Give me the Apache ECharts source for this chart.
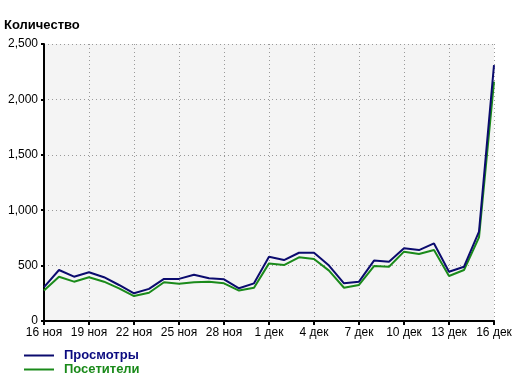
<!DOCTYPE html>
<html><head><meta charset="utf-8">
<script src="https://cdn.jsdelivr.net/npm/echarts@6/dist/echarts.min.js"></script>
<style>html,body{margin:0;padding:0;background:#fff}#c{width:517px;height:379px}</style>
</head><body><div id="c"></div>
<script>
const categories = ['16 ноя','17 ноя','18 ноя','19 ноя','20 ноя','21 ноя','22 ноя','23 ноя','24 ноя','25 ноя','26 ноя','27 ноя','28 ноя','29 ноя','30 ноя',
  '1 дек','2 дек','3 дек','4 дек','5 дек','6 дек','7 дек','8 дек','9 дек','10 дек','11 дек','12 дек','13 дек','14 дек','15 дек','16 дек'];
const views = [305,460,400,440,395,325,250,290,380,380,418,385,376,295,340,580,550,616,616,500,340,355,545,535,656,640,700,445,490,806,2310];
const visitors = [275,400,355,395,355,295,225,255,350,337,350,355,340,275,300,520,505,575,560,455,300,325,496,490,626,605,640,406,460,755,2160];
const yMin = 0, yMax = 2500, yStep = 500;
const titleText = 'Количество';
const seriesNames = ['Просмотры','Посетители'];

const chart = echarts.init(document.getElementById('c'));
const FONT = '"Liberation Sans", Arial, sans-serif';
chart.setOption({
  animation: false,
  backgroundColor: '#ffffff',
  graphic: [{type:'text', left: 4, top: 19, style:{text: titleText, font: 'bold 13px ' + FONT, fill:'#000'}}],
  grid: {left: 44, right: 23, top: 44, bottom: 58, show: true, backgroundColor: '#f4f4f4', borderWidth: 0},
  legend: {
    orient: 'vertical', left: 24, top: 349, padding: 0, itemWidth: 30, itemHeight: 2, itemGap: 1, icon: 'rect',
    textStyle: {fontFamily: FONT, fontSize: 13, fontWeight: 'bold', padding: [0,0,0,5]},
    data: [
      {name: seriesNames[0], textStyle: {color: '#0b0b80'}},
      {name: seriesNames[1], textStyle: {color: '#1a8a1a'}}
    ]
  },
  xAxis: {
    type: 'category', data: categories, boundaryGap: false,
    axisLine: {lineStyle: {color: '#000', width: 2}},
    axisTick: {interval: 2, length: 4, lineStyle: {color: '#000', width: 2}},
    axisLabel: {interval: 2, color: '#000', fontFamily: FONT, fontSize: 12, margin: 6},
    splitLine: {show: true, interval: 2, lineStyle: {color: '#999', type: [1,3], width: 1}}
  },
  yAxis: {
    type: 'value', min: yMin, max: yMax, interval: yStep,
    axisLine: {show: true, lineStyle: {color: '#000', width: 2}},
    axisTick: {show: true, length: 3, lineStyle: {color: '#000', width: 2}},
    axisLabel: {color: '#000', fontFamily: FONT, fontSize: 12, margin: 6,
      formatter: v => v.toLocaleString('en-US')},
    splitLine: {show: true, lineStyle: {color: '#999', type: [1,3], width: 1}}
  },
  series: [
    {name: seriesNames[1], type: 'line', data: visitors, symbol: 'none', z: 2,
      lineStyle: {color: '#1a8a1a', width: 2}, itemStyle: {color: '#1a8a1a'}},
    {name: seriesNames[0], type: 'line', data: views, symbol: 'none', z: 3,
      lineStyle: {color: '#0b0b6e', width: 2}, itemStyle: {color: '#0b0b6e'}}
  ]
});
</script></body></html>
